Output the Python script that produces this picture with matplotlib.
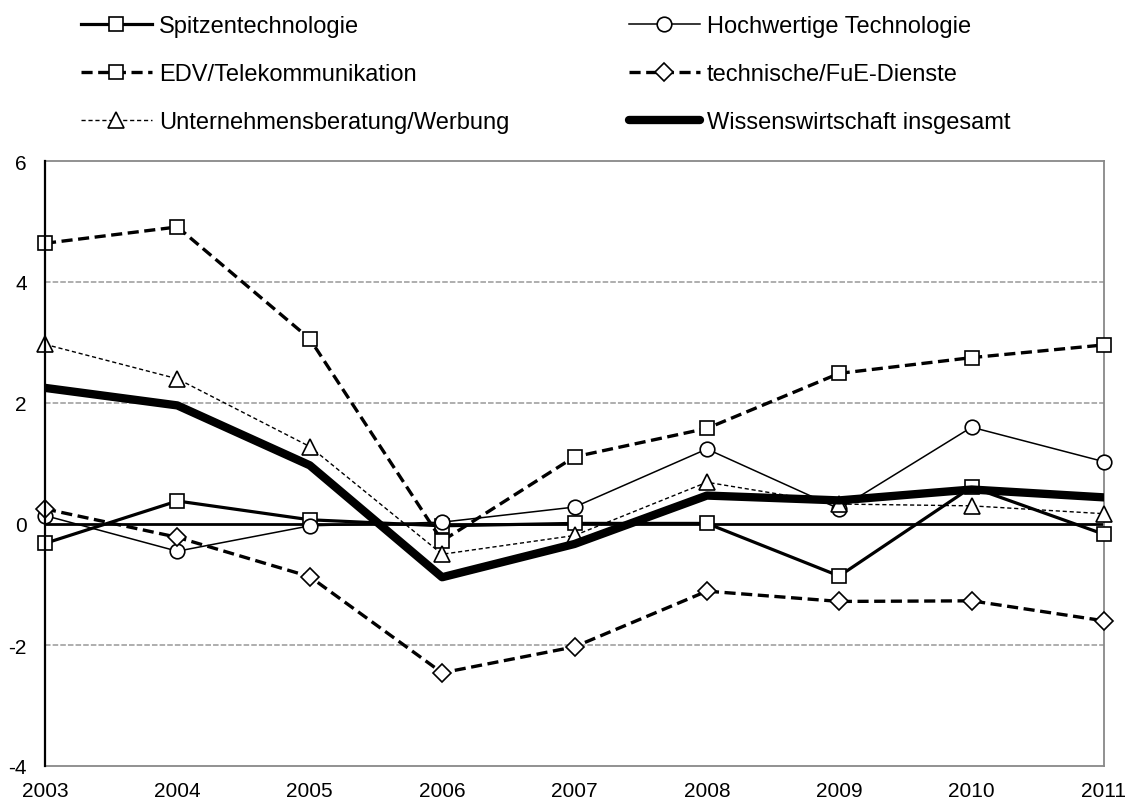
import matplotlib
matplotlib.use("Agg")
import matplotlib.pyplot as plt

plt.rcParams['font.family'] = ['Liberation Sans', 'DejaVu Sans']
plt.rcParams['lines.scale_dashes'] = False
plt.rcParams['axes.unicode_minus'] = False

years = [2003, 2004, 2005, 2006, 2007, 2008, 2009, 2010, 2011]
spitzen = [-0.32, 0.38, 0.07, -0.03, 0.01, 0.01, -0.86, 0.61, -0.17]
hochwertig = [0.14, -0.45, -0.03, 0.03, 0.28, 1.24, 0.25, 1.60, 1.03]
edv = [4.64, 4.91, 3.06, -0.28, 1.11, 1.58, 2.49, 2.75, 2.96]
fue = [0.25, -0.22, -0.87, -2.46, -2.03, -1.11, -1.28, -1.27, -1.60]
beratung = [2.97, 2.40, 1.28, -0.50, -0.19, 0.69, 0.33, 0.30, 0.17]
wissen = [2.25, 1.96, 0.97, -0.88, -0.33, 0.47, 0.39, 0.57, 0.44]
yticks = [-4, -2, 0, 2, 4, 6]

fig = plt.figure(figsize=(11.26, 8.03), dpi=100)
ax = fig.add_axes([45/1126, 1-767/803, (1104-45)/1126, (767-162)/803])

for y in [-2, 2, 4]:
    ax.axhline(y, color='#999999', lw=1.1, ls=(0, (4, 1.5)), zorder=1)
ax.axhline(0, color='black', lw=2.0, zorder=2)

mk = dict(mfc='white', mec='black', mew=1.2, clip_on=False)
l1, = ax.plot(years, spitzen, color='black', lw=2.3, marker='s', ms=10.3,
              label='Spitzentechnologie', zorder=3, **mk)
l2, = ax.plot(years, hochwertig, color='black', lw=1.1, marker='o', ms=10.5,
              label='Hochwertige Technologie', zorder=3, **mk)
l3, = ax.plot(years, edv, color='black', lw=2.4, ls=(0, (8, 4)), marker='s', ms=10.3,
              label='EDV/Telekommunikation', zorder=3, **mk)
l4, = ax.plot(years, fue, color='black', lw=2.4, ls=(0, (8, 4)), marker='D', ms=8.8,
              label='technische/FuE-Dienste', zorder=3, **mk)
l5, = ax.plot(years, beratung, color='black', lw=1.0, ls=(0, (3, 2)), marker='^', ms=11,
              label='Unternehmensberatung/Werbung', zorder=3, **mk)
l6, = ax.plot(years, wissen, color='black', lw=6, solid_capstyle='round',
              label='Wissenswirtschaft insgesamt', zorder=4)

ax.set_xlim(2003, 2011)
ax.set_ylim(-4, 6)
ax.set_xticks(years)
ax.set_yticks(yticks)
ax.tick_params(length=0, labelsize=15)
ax.tick_params(axis='x', pad=10.5)
ax.tick_params(axis='y', pad=13)

for side in ['top', 'right', 'bottom']:
    ax.spines[side].set_color('#888888')
    ax.spines[side].set_linewidth(1.3)
ax.spines['left'].set_color('black')
ax.spines['left'].set_linewidth(1.6)
ax.spines['left'].set_zorder(5)

leg_kw = dict(loc='center left', frameon=False, fontsize=17, handlelength=3.0,
              handletextpad=0.3, labelspacing=1.1, borderpad=0, borderaxespad=0,
              bbox_transform=fig.transFigure)
leg1 = fig.legend(handles=[l1, l3, l5], bbox_to_anchor=(81/1126, 1-75/803), **leg_kw)
leg2 = fig.legend(handles=[l2, l4, l6], bbox_to_anchor=(629/1126, 1-75/803), **leg_kw)

fig.savefig('out.png', dpi=100)
